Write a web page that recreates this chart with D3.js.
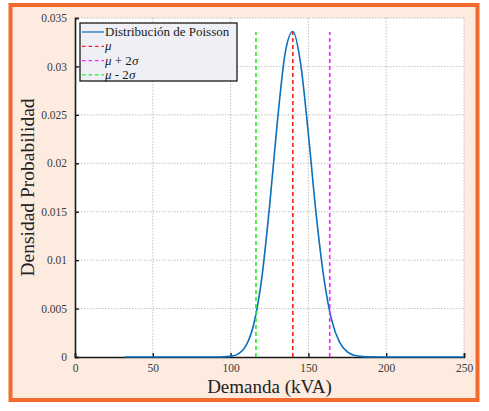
<!DOCTYPE html>
<html>
<head>
<meta charset="utf-8">
<script src="https://cdn.jsdelivr.net/npm/d3@7"></script>
<style>
  body { margin: 0; background: #ffffff; }
  svg { display: block; font-family: "Liberation Serif", "DejaVu Serif", serif; }
</style>
</head>
<body>
<div id="chart"></div>
<script>
// demand values (kVA) and read-off density
const demand = [32, 40, 50, 60, 70, 80, 90, 95, 100, 105, 110, 115, 120, 125, 130, 135, 140,
                145, 150, 155, 160, 165, 170, 175, 180, 185, 190, 200, 210, 220, 230, 240, 250];
const density = [0, 0, 0, 0, 0, 0, 0.000003, 0.00001, 0.000066, 0.00032, 0.00119, 0.00346, 0.0081, 0.0155, 0.0242, 0.0313, 0.0336,
                 0.0303, 0.0230, 0.0147, 0.0081, 0.00378, 0.00153, 0.00052, 0.00015, 0.00004, 0.00001, 0, 0, 0, 0, 0, 0];

const mu = 140;
const muPlus2s = 163.7;
const muMinus2s = 116.3;
const peak = 0.03355;

const xTicks = [0, 50, 100, 150, 200, 250];
const yTicks = [0, 0.005, 0.01, 0.015, 0.02, 0.025, 0.03, 0.035];
const yTickLabels = ["0", "0.005", "0.01", "0.015", "0.02", "0.025", "0.03", "0.035"];

const W = 489, H = 411;
const margin = { top: 18, right: 25, bottom: 54, left: 75 };
const width = W - margin.left - margin.right;
const height = H - margin.top - margin.bottom;

const svg = d3.select("#chart").append("svg")
    .attr("width", W)
    .attr("height", H);

// outer frame
svg.append("rect")
    .attr("x", 10.5).attr("y", 5)
    .attr("width", 467).attr("height", 395)
    .attr("fill", "#fdebdf")
    .attr("stroke", "#f26a2c")
    .attr("stroke-width", 4);

const g = svg.append("g").attr("transform", `translate(${margin.left},${margin.top})`);

g.append("rect").attr("width", width).attr("height", height).attr("fill", "#ffffff");

const x = d3.scaleLinear().domain([0, 250]).range([0, width]);
const y = d3.scaleLinear().domain([0, 0.035]).range([height, 0]);

// grid
g.append("g").selectAll("line").data(xTicks.slice(1))
    .join("line")
    .attr("x1", d => x(d)).attr("x2", d => x(d))
    .attr("y1", 0).attr("y2", height)
    .attr("stroke", "#a8a8a8").attr("stroke-width", 0.7).attr("stroke-dasharray", "1.5,1.5");
g.append("g").selectAll("line").data(yTicks.slice(1))
    .join("line")
    .attr("x1", 0).attr("x2", width)
    .attr("y1", d => y(d)).attr("y2", d => y(d))
    .attr("stroke", "#a8a8a8").attr("stroke-width", 0.7).attr("stroke-dasharray", "1.5,1.5");

// axes
const xAxis = g.append("g").attr("transform", `translate(0,${height})`)
    .call(d3.axisBottom(x).tickValues(xTicks).tickSize(-4).tickPadding(7).tickFormat(d3.format("d")));
const yAxis = g.append("g")
    .call(d3.axisLeft(y).tickValues(yTicks).tickSize(-4).tickPadding(8).tickFormat((d, i) => yTickLabels[i]));
[xAxis, yAxis].forEach(a => {
    a.attr("font-family", "Liberation Serif, serif").attr("font-size", 11.5);
    a.select(".domain").attr("stroke", "#1a1a1a").attr("stroke-width", 1.6);
    a.selectAll(".tick line").attr("stroke", "#1a1a1a").attr("stroke-width", 1.4);
    a.selectAll(".tick text").attr("fill", "#3a3a3a");
});

// poisson curve
const line = d3.line()
    .x((d, i) => x(demand[i]))
    .y(d => y(d))
    .curve(d3.curveMonotoneX);
g.append("path")
    .datum(density)
    .attr("d", line)
    .attr("fill", "none")
    .attr("stroke", "#0a6fbd")
    .attr("stroke-width", 1.6);

// mean and +-2 sigma lines
const vlines = [
    { v: mu, color: "#ff1a1a" },
    { v: muPlus2s, color: "#ff22ff" },
    { v: muMinus2s, color: "#22ee22" }
];
g.selectAll(".vline").data(vlines)
    .join("line")
    .attr("class", "vline")
    .attr("x1", d => x(d.v)).attr("x2", d => x(d.v))
    .attr("y1", y(0)).attr("y2", y(peak))
    .attr("stroke", d => d.color)
    .attr("stroke-width", 1.6)
    .attr("stroke-dasharray", "4,3");

// legend
const lg = svg.append("g").attr("transform", "translate(80,23)");
lg.append("rect").attr("width", 157).attr("height", 58)
    .attr("fill", "#eef0f5").attr("stroke", "#1a1a1a").attr("stroke-width", 1.3);
const legendItems = [
    { label: "Distribución de Poisson", color: "#0a6fbd", dash: null, suffix: null },
    { label: "μ", color: "#ff1a1a", dash: "3.5,3", suffix: "" },
    { label: "μ + 2σ", color: "#ff22ff", dash: "3.5,3", suffix: " + 2" },
    { label: "μ - 2σ", color: "#22ee22", dash: "3.5,3", suffix: " - 2" }
];
legendItems.forEach((d, i) => {
    const yy = 9 + i * 14.3;
    lg.append("line")
        .attr("x1", 2).attr("x2", 24).attr("y1", yy).attr("y2", yy)
        .attr("stroke", d.color).attr("stroke-width", 1.2)
        .attr("stroke-dasharray", d.dash);
    const t = lg.append("text").attr("x", 25).attr("y", yy + 4)
        .attr("font-size", 13).attr("fill", "#1a1a1a");
    if (d.suffix === null) {
        t.text(d.label);
    } else {
        t.append("tspan").attr("font-style", "italic").text("μ");
        if (d.suffix) {
            t.append("tspan").text(d.suffix);
            t.append("tspan").attr("font-style", "italic").text("σ");
        }
    }
});

// axis labels
svg.append("text")
    .attr("x", margin.left + width / 2).attr("y", 393)
    .attr("text-anchor", "middle")
    .attr("font-size", 19).attr("fill", "#222")
    .text("Demanda (kVA)");
svg.append("text")
    .attr("transform", `translate(34,${margin.top + height / 2}) rotate(-90)`)
    .attr("text-anchor", "middle")
    .attr("font-size", 19.5).attr("fill", "#222")
    .text("Densidad Probabilidad");
</script>
</body>
</html>
